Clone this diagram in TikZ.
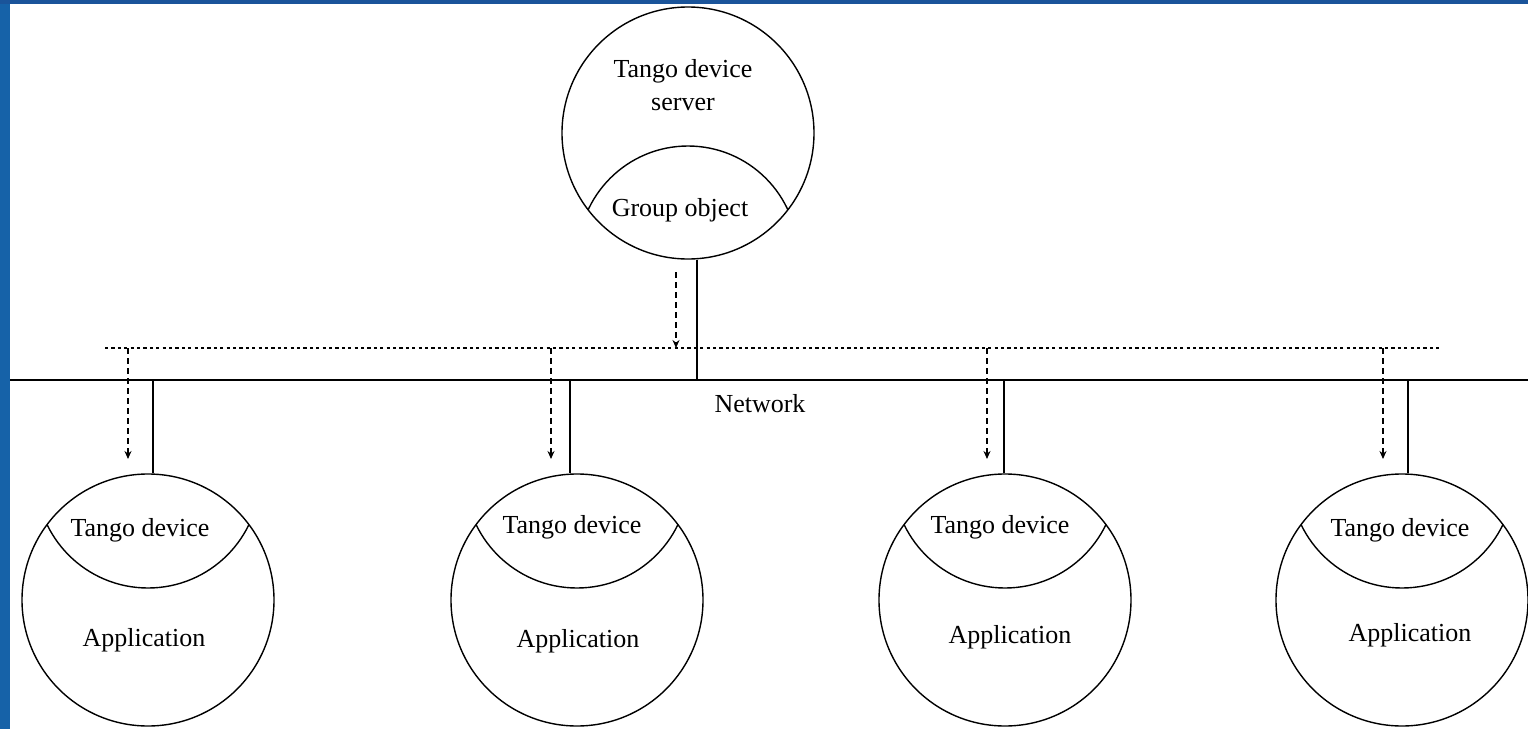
\documentclass[tikz,border=0pt]{standalone}
\usepackage{fontspec}
\setmainfont{Liberation Serif}
\usetikzlibrary{arrows.meta}
\definecolor{frameblue}{RGB}{26,84,154}
\definecolor{sideblue}{RGB}{22,98,168}
\begin{document}
\begin{tikzpicture}[x=0.5pt,y=-0.5pt,
  ball/.style={circle,draw,line width=0.7pt,minimum size=126pt,inner sep=0pt},
  lbl/.style={font=\fontsize{13}{16.5}\selectfont,inner sep=0pt,align=center},
  wire/.style={line width=0.8pt},
  inarc/.style={line width=0.7pt},
  dashy/.style={line width=0.7pt,dash pattern=on 3pt off 2pt,-{Stealth[length=4pt,width=3.5pt]}},
  dotty/.style={line width=0.7pt,dash pattern=on 1.6pt off 1.6pt}]
\useasboundingbox (0,0) rectangle (1528,729);
\fill[white] (0,0) rectangle (1528,729);

% server
\node[ball] (srv) at (688,133) {};
\begin{scope}
  \clip (688,133) circle (126);
  \draw[inarc] (688,256) circle (110);
\end{scope}
\node[lbl] (srvtxt) at (683,85) {Tango device\\server};
\node[lbl] (grp) at (680,210) {Group object};

% network and broadcast line
\coordinate (netL) at (10,380);
\coordinate (netR) at (1528,380);
\draw[wire] (netL) -- (netR);
\node[lbl] (net) at (760,404) {Network};
\coordinate (dotL) at (105,348);
\coordinate (dotR) at (1442,348);
\draw[dotty] (dotL) -- (dotR);

\coordinate (srvtap) at (697,380);
\draw[wire] (srv.south -| srvtap) -- (srvtap);
\coordinate (srvd) at (676,272);
\draw[dashy] (srvd) -- (srvd |- dotL);

% applications
\foreach \i/\cx/\sx/\dx/\tx/\ty/\ax/\ay in {
  1/148/153/128/140/530/144/640,
  2/577/570/551/572/527/578/641,
  3/1005/1004/987/1000/527/1010/637,
  4/1402/1408/1383/1400/530/1410/635}{
  \node[ball] (app\i) at (\cx,600) {};
  \begin{scope}
    \clip (\cx,600) circle (126);
    \draw[inarc] (\cx,476) circle (112);
  \end{scope}
  \node[lbl] (dev\i) at (\tx,\ty) {Tango device};
  \node[lbl] (appt\i) at (\ax,\ay) {Application};
  \coordinate (tap\i) at (\sx,380);
  \draw[wire] (tap\i) -- (tap\i |- app\i.north);
  \coordinate (drop\i) at (\dx,348);
  \draw[dashy] (drop\i) -- (\dx,459);
}

% frame
\fill[sideblue] (0,0) rectangle (10,729);
\fill[frameblue] (0,0) rectangle (1528,4);
\end{tikzpicture}
\end{document}
